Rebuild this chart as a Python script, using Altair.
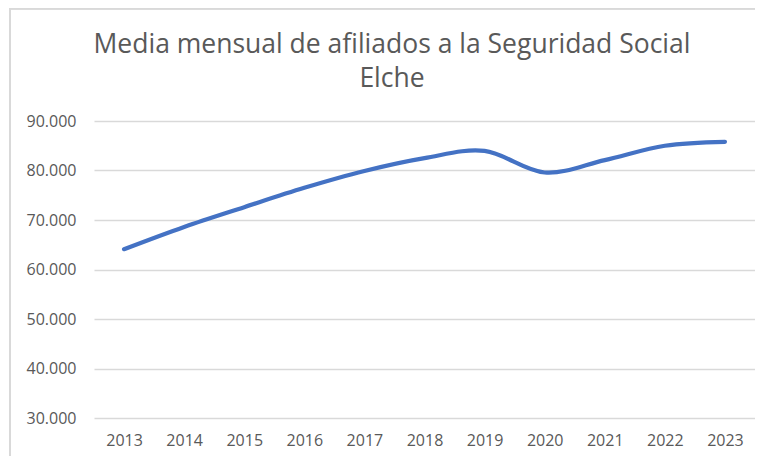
import altair as alt
import pandas as pd

years = ["2013", "2014", "2015", "2016", "2017", "2018", "2019", "2020", "2021", "2022", "2023"]
afiliados = [64100, 68600, 72600, 76500, 79900, 82500, 83950, 79600, 82100, 85000, 85800]
y_ticks = [30000, 40000, 50000, 60000, 70000, 80000, 90000]
title_lines = ["Media mensual de afiliados a la Seguridad Social", "Elche"]

df = pd.DataFrame({"year": years, "value": afiliados})

FONT = "Open Sans"
GRAY = "#595959"

line = alt.Chart(df).mark_line(
    color="#4472C4", strokeWidth=4.2, interpolate="cardinal", strokeCap="round"
).encode(
    x=alt.X("year:O", scale=alt.Scale(type="point", padding=0.5),
            axis=alt.Axis(title=None, labelAngle=0, domain=False, ticks=False,
                          labelPadding=14, labelFont=FONT, labelFontSize=16,
                          labelColor=GRAY, grid=False)),
    y=alt.Y("value:Q", scale=alt.Scale(domain=[30000, 90000], nice=False, zero=False),
            axis=alt.Axis(title=None, values=y_ticks, domain=False, ticks=False,
                          labelPadding=18, labelFont=FONT, labelFontSize=16,
                          labelColor=GRAY, gridColor="#D9D9D9", gridWidth=1.5,
                          labelExpr="replace(format(datum.value, ','), ',', '.')")),
)

title_df = pd.DataFrame({"t": [title_lines[0]]})
title_mark = alt.Chart(title_df).mark_text(
    font=FONT, fontSize=26.5, color=GRAY, align="center", baseline="alphabetic",
    lineHeight=34
).encode(
    x=alt.value(298), y=alt.value(-68), text=alt.value(title_lines)
)

border_left = alt.Chart(df).mark_rule(color="#D9D9D9", strokeWidth=1.5).encode(
    x=alt.value(-84), y=alt.value(-130), y2=alt.value(360)
)
border_top = alt.Chart(df).mark_rule(color="#D9D9D9", strokeWidth=1.5).encode(
    x=alt.value(-84), x2=alt.value(700), y=alt.value(-112.5)
)

chart = alt.layer(border_left, border_top, title_mark, line).properties(
    width=661, height=297,
    autosize=alt.AutoSizeParams(type="none"),
    padding={"left": 86, "top": 113, "right": 0, "bottom": 38},
).configure_view(stroke=None)

chart.save("out.html", embed_options={"renderer": "svg", "actions": False})
